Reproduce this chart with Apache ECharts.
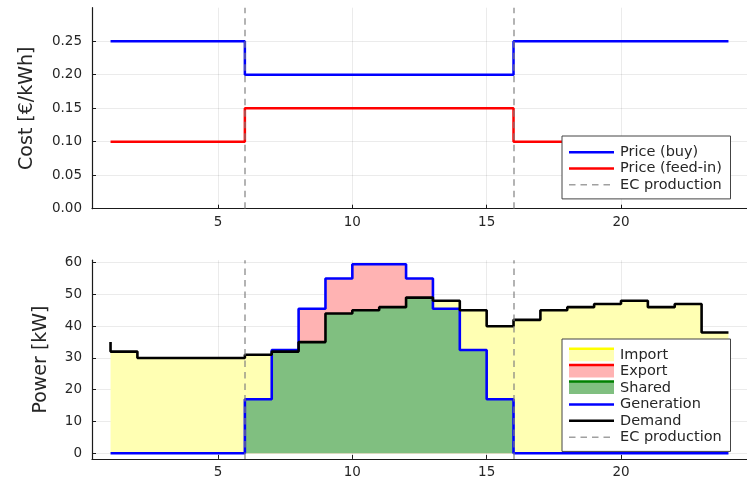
<!DOCTYPE html>
<html><head><meta charset="utf-8">
<script src="https://cdn.jsdelivr.net/npm/echarts@6/dist/echarts.min.js"></script>
<style>html,body{margin:0;padding:0;background:#fff}#c{width:747px;height:481px}</style>
</head><body><div id="c"></div>
<script>
// ---- data ----
const hours = [1,2,3,4,5,6,7,8,9,10,11,12,13,14,15,16,17,18,19,20,21,22,23,24];
const priceBuy = [0.25,0.25,0.25,0.25,0.25,0.25,0.20,0.20,0.20,0.20,0.20,0.20,0.20,0.20,0.20,0.20,0.25,0.25,0.25,0.25,0.25,0.25,0.25,0.25];
const priceFeedIn = [0.10,0.10,0.10,0.10,0.10,0.10,0.15,0.15,0.15,0.15,0.15,0.15,0.15,0.15,0.15,0.15,0.10,0.10,0.10,0.10,0.10,0.10,0.10,0.10];
const generation = [0,0,0,0,0,0,17,32.5,45.5,55,59.5,59.5,55,45.5,32.5,17,0,0,0,0,0,0,0,0];
const demand = [35,32,30,30,30,30,31,32,35,44,45,46,49,48,45,40,42,45,46,47,48,46,47,38];
const ecProduction = [6, 16];
const xTicks = [5,10,15,20];
const costTicks = [0,0.05,0.10,0.15,0.20,0.25];
const powerTicks = [0,10,20,30,40,50,60];
const legendTop = ['Price (buy)','Price (feed-in)','EC production'];
const legendBottom = ['Import','Export','Shared','Generation','Demand','EC production'];

// derived: shared energy = min(generation, demand)
const shared = generation.map((g,i)=>Math.min(g, demand[i]));
const pts = arr => hours.map((h,i)=>[h, arr[i]]);

const FONT = 'DejaVu Sans';
const TXT = '#262626';
const AX = '#1a1a1a';
const GRIDC = 'rgba(0,0,0,0.08)';
const YEL = '#ffffb3', PINK = '#ffb3b3', GRN = '#80bf80';

function xAxis(g){
  return {
    type:'value', gridIndex:g, min:0.31, max:24.69, z:3,
    axisLine:{onZero:false, lineStyle:{color:AX, width:1.2}},
    axisTick:{inside:true, length:4, customValues:xTicks, lineStyle:{color:AX}},
    axisLabel:{customValues:xTicks, color:TXT, fontFamily:FONT, fontSize:13.5, margin:7},
    splitLine:{show:true, lineStyle:{color:GRIDC, width:1}}
  };
}
function yAxis(g, min, max, ticks, name, gap, fmt){
  return {
    type:'value', gridIndex:g, min:min, max:max, z:3,
    name:name, nameLocation:'middle', nameGap:gap,
    nameTextStyle:{fontFamily:FONT, fontSize:19, color:TXT},
    axisLine:{show:true, onZero:false, lineStyle:{color:AX, width:1.2}},
    axisTick:{show:true, inside:true, length:4, customValues:ticks, lineStyle:{color:AX}},
    axisLabel:{customValues:ticks, color:TXT, fontFamily:FONT, fontSize:13.5, margin:10, formatter:fmt},
    splitLine:{show:true, lineStyle:{color:GRIDC, width:1}}
  };
}
const ecMark = {
  symbol:'none', silent:true, animation:false, label:{show:false},
  lineStyle:{color:'rgba(128,128,128,0.75)', type:[6.5,5], width:1.6},
  data: ecProduction.map(v=>({xAxis:v}))
};

function legendGroup(x, y, w, rowH, items){
  const Z = 100;
  const children = [{type:'rect', z:Z, shape:{x:0,y:0,width:w,height:items.length*rowH+14},
    style:{fill:'#fff', stroke:'#444', lineWidth:1}}];
  items.forEach((it,i)=>{
    const cy = 8 + rowH*(i+0.5);
    if (it.fill) {
      children.push({type:'rect', z:Z+1, shape:{x:7,y:cy-6,width:45,height:12}, style:{fill:it.fill}});
      children.push({type:'line', z:Z+2, shape:{x1:7,y1:cy-6.5,x2:52,y2:cy-6.5}, style:{stroke:it.color, lineWidth:2.5}});
    } else {
      children.push({type:'line', z:Z+2, shape:{x1:7,y1:cy,x2:52,y2:cy},
        style:{stroke:it.color, lineWidth:it.dash?1.6:2.5, lineDash:it.dash||null}});
    }
    children.push({type:'text', z:Z+2, x:58, y:cy, style:{text:it.name, font:'14.5px "DejaVu Sans"', fill:TXT, verticalAlign:'middle'}});
  });
  return {type:'group', x:x, y:y, z:Z, children:children};
}

const option = {
  animation:false,
  backgroundColor:'#fff',
  grid:[
    {left:92, top:7.7, width:661, height:201},
    {left:92, top:260.2, width:661, height:198.7}
  ],
  xAxis:[xAxis(0), xAxis(1)],
  yAxis:[
    yAxis(0, 0, 0.3, costTicks, 'Cost [€/kWh]', 55, v=>v.toFixed(2)),
    yAxis(1, -1.77, 60.77, powerTicks, 'Power [kW]', 41, v=>String(v))
  ],
  series:[
    {name:legendTop[0], type:'line', xAxisIndex:0, yAxisIndex:0, step:'start', showSymbol:false,
      data:pts(priceBuy), lineStyle:{color:'#0000ff', width:2.5}},
    {name:legendTop[1], type:'line', xAxisIndex:0, yAxisIndex:0, step:'start', showSymbol:false,
      data:pts(priceFeedIn), lineStyle:{color:'#ff0000', width:2.5}},
    {name:legendTop[2], type:'line', xAxisIndex:0, yAxisIndex:0, data:[], markLine:ecMark},

    // Import (yellow): fill 0..demand
    {name:legendBottom[0], type:'line', xAxisIndex:1, yAxisIndex:1, step:'start', showSymbol:false,
      data:pts(demand), lineStyle:{width:0}, areaStyle:{color:YEL, opacity:1}},
    // Export (pink): fill 0..generation
    {name:legendBottom[1], type:'line', xAxisIndex:1, yAxisIndex:1, step:'start', showSymbol:false,
      data:pts(generation), lineStyle:{width:0}, areaStyle:{color:PINK, opacity:1}},
    // Shared (green): fill 0..min(generation, demand)
    {name:legendBottom[2], type:'line', xAxisIndex:1, yAxisIndex:1, step:'start', showSymbol:false,
      data:pts(shared), lineStyle:{width:0}, areaStyle:{color:GRN, opacity:1}},
    {name:legendBottom[3], type:'line', xAxisIndex:1, yAxisIndex:1, step:'start', showSymbol:false,
      data:pts(generation), lineStyle:{color:'#0000ff', width:2.6}},
    {name:legendBottom[4], type:'line', xAxisIndex:1, yAxisIndex:1, step:'start', showSymbol:false,
      data:pts(demand), lineStyle:{color:'#000000', width:2.6}},
    {name:legendBottom[5], type:'line', xAxisIndex:1, yAxisIndex:1, data:[], markLine:ecMark}
  ],
  graphic:[
    legendGroup(562, 136, 168.5, 16.3, [
      {name:legendTop[0], color:'#0000ff'},
      {name:legendTop[1], color:'#ff0000'},
      {name:legendTop[2], color:'rgba(128,128,128,0.75)', dash:[6.5,5]}
    ]),
    legendGroup(562, 339, 168.5, 16.4, [
      {name:legendBottom[0], color:'#ffff00', fill:YEL},
      {name:legendBottom[1], color:'#ff0000', fill:PINK},
      {name:legendBottom[2], color:'#008000', fill:GRN},
      {name:legendBottom[3], color:'#0000ff'},
      {name:legendBottom[4], color:'#000000'},
      {name:legendBottom[5], color:'rgba(128,128,128,0.75)', dash:[6.5,5]}
    ])
  ]
};
const chart = echarts.init(document.getElementById('c'), null, {renderer:'canvas'});
chart.setOption(option);
</script>
</body></html>
